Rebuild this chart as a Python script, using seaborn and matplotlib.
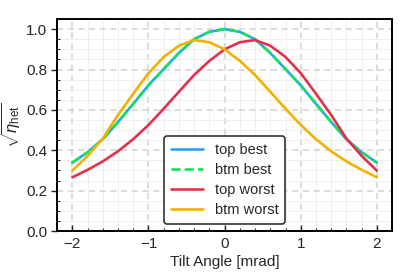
import numpy as np
import pandas as pd
import matplotlib
matplotlib.use("Agg")
import matplotlib.pyplot as plt
from matplotlib.ticker import MultipleLocator
import seaborn as sns

# Data
tilt = [-2.0, -1.8, -1.6, -1.4, -1.2, -1.0, -0.8, -0.6, -0.4, -0.2, 0.0,
        0.2, 0.4, 0.6, 0.8, 1.0, 1.2, 1.4, 1.6, 1.8, 2.0]
top_best = [0.339, 0.390, 0.455, 0.540, 0.630, 0.722, 0.802, 0.882, 0.950, 0.987, 1.000,
            0.987, 0.950, 0.882, 0.802, 0.722, 0.630, 0.540, 0.455, 0.390, 0.339]
btm_best = [0.339, 0.390, 0.455, 0.540, 0.630, 0.722, 0.802, 0.882, 0.950, 0.987, 1.000,
            0.987, 0.950, 0.882, 0.802, 0.722, 0.630, 0.540, 0.455, 0.390, 0.339]
top_worst = [0.266, 0.303, 0.345, 0.395, 0.455, 0.525, 0.606, 0.690, 0.773, 0.843, 0.900,
             0.935, 0.946, 0.918, 0.862, 0.782, 0.680, 0.575, 0.458, 0.372, 0.299]
btm_worst = [0.299, 0.372, 0.458, 0.575, 0.680, 0.782, 0.862, 0.918, 0.946, 0.935, 0.900,
             0.843, 0.773, 0.690, 0.606, 0.525, 0.455, 0.395, 0.345, 0.303, 0.266]
labels = ["top best", "btm best", "top worst", "btm worst"]
colors = ["#2aa3f5", "#14e35a", "#e3304d", "#f2b000"]

sns.set_style("ticks")
plt.rcParams["font.family"] = ["Liberation Sans", "DejaVu Sans"]
plt.rcParams["mathtext.fontset"] = "custom"
plt.rcParams["mathtext.rm"] = "Liberation Sans"
plt.rcParams["mathtext.it"] = "Liberation Sans:italic"
plt.rcParams["font.size"] = 11

fig = plt.figure(figsize=(4.08, 2.76), dpi=100)
ax = fig.add_axes([0.140, 0.163, 0.821, 0.768])

series = [top_best, btm_best, top_worst, btm_worst]
for lab, vals, col in zip(labels, series, colors):
    df = pd.DataFrame({"x": tilt, "y": vals})
    sns.lineplot(data=df, x="x", y="y", ax=ax, color=col, lw=1.9, label=lab)
    if lab == "btm best":
        ax.lines[-1].set_dashes((3.4, 1.6))

ax.set_xlim(-2.2, 2.2)
ax.set_ylim(0, 1.05)
ax.xaxis.set_minor_locator(MultipleLocator(0.2))
ax.yaxis.set_minor_locator(MultipleLocator(0.05))
ax.set_yticks([0, 0.2, 0.4, 0.6, 0.8, 1.0])
ax.set_yticklabels(["0.0", "0.2", "0.4", "0.6", "0.8", "1.0"])
ax.set_xticks([-2, -1, 0, 1, 2])
ax.set_xticklabels(["\u22122", "\u22121", "0", "1", "2"])

ax.grid(which="major", color="#d2d2d2", ls=(0, (4, 3)), lw=1.1)
ax.grid(which="minor", color="#ededed", ls="-", lw=0.6)
ax.set_axisbelow(True)

ax.tick_params(axis="x", which="major", direction="in", length=4, width=1, labelsize=11, pad=4)
ax.tick_params(axis="x", which="minor", direction="in", length=2.5, width=0.8)
ax.tick_params(axis="y", which="major", direction="out", length=4, width=1, labelsize=11, pad=3)
ax.tick_params(axis="y", which="minor", direction="in", length=2.5, width=0.8)
for s in ax.spines.values():
    s.set_visible(True)
    s.set_linewidth(1.4)
    s.set_color("black")

ax.set_xlabel("Tilt Angle [mrad]", fontsize=11, labelpad=3)
ax.set_ylabel(r"$\sqrt{\eta_{\mathrm{het}}}$", fontsize=12, labelpad=2)

leg = ax.legend(loc="lower center", fontsize=10.5, frameon=True, fancybox=True,
                handlelength=2.2, handletextpad=0.8, labelspacing=0.42,
                borderpad=0.45, framealpha=1)
leg.get_frame().set_edgecolor("#222222")
leg.get_frame().set_linewidth(1.1)

fig.savefig("out.png", dpi=100)
